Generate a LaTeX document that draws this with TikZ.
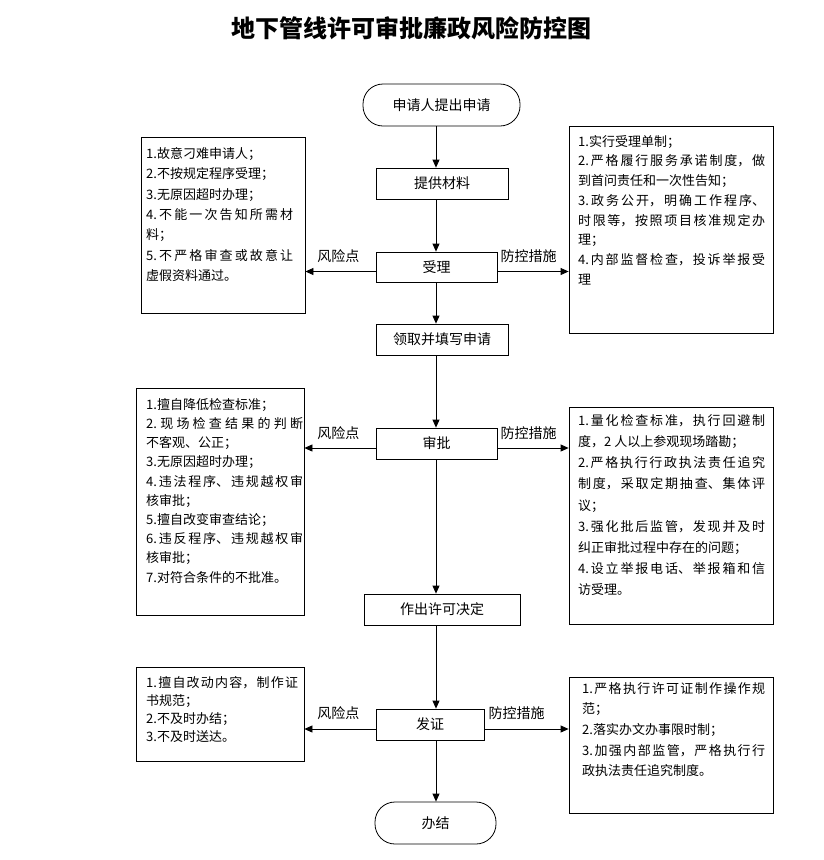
\documentclass[tikz,border=0pt]{standalone}
\usepackage{fontspec}
\setmainfont{Noto Sans CJK SC}
\usetikzlibrary{arrows.meta}
\XeTeXlinebreaklocale "zh"
\XeTeXlinebreakskip=0pt plus 2pt
\setlength{\parindent}{0pt}
\tikzset{
  box/.style={draw, line width=0.8pt, inner sep=0pt, font=\fontsize{14}{16}\selectfont},
  term/.style={box, rounded corners=20pt},
  sidebox/.style={draw, line width=0.8pt, inner sep=0pt},
  sidetext/.style={inner sep=0pt, anchor=north west, align=justify, font=\fontsize{13}{#1}\selectfont},
  lbl/.style={inner sep=0pt, font=\fontsize{14}{16}\selectfont},
  arr/.style={line width=0.8pt, -{Triangle[length=8pt,width=7pt]}},
}
\begin{document}
\begin{tikzpicture}[x=1pt,y=-1pt]
\useasboundingbox (0,0) rectangle (823,860);
\fill[white] (0,0) rectangle (823,860);

\node[inner sep=0pt, font=\fontsize{24}{28}\selectfont\bfseries] (title) at (411.5,28) {地下管线许可审批廉政风险防控图};

% main flow
\node[term, minimum width=157pt, minimum height=42pt] (start) at (441.5,105) {申请人提出申请};
\node[box, minimum width=132pt, minimum height=31pt] (tg) at (442,183.5) {提供材料};
\node[box, minimum width=121pt, minimum height=30pt] (sl) at (436.5,267) {受理};
\node[box, minimum width=132pt, minimum height=31pt] (lq) at (442,339.5) {领取并填写申请};
\node[box, minimum width=121pt, minimum height=31pt] (sp) at (436.5,443.5) {审批};
\node[box, minimum width=156pt, minimum height=31pt] (zc) at (442,609.5) {作出许可决定};
\node[box, minimum width=108pt, minimum height=31pt] (fz) at (430,724.5) {发证};
\node[term, minimum width=121pt, minimum height=42pt] (bj) at (435.5,823) {办结};

% side boxes
\node[sidebox, minimum width=164pt, minimum height=176pt] (L1) at (223,225) {};
\node[sidebox, minimum width=204pt, minimum height=207pt] (R1) at (671,229.5) {};
\node[sidebox, minimum width=168pt, minimum height=227pt] (L2) at (220,501.5) {};
\node[sidebox, minimum width=204pt, minimum height=217pt] (R2) at (671,515.5) {};
\node[sidebox, minimum width=168pt, minimum height=94pt] (L3) at (220,714) {};
\node[sidebox, minimum width=204pt, minimum height=136pt] (R3) at (671,745) {};

\node[sidetext=20.4, text width=147pt] (L1t) at (146,146) {\rule{0pt}{12pt}1.故意刁难申请人；\\
2.不按规定程序受理；\\
3.无原因超时办理；\\
4.不能一次告知所需材\linebreak 料；\\
5.不严格审查或故意让\linebreak 虚假资料通过。};

\node[sidetext=19.7, text width=187pt] (R1t) at (578,134) {\rule{0pt}{12pt}1.实行受理单制；\\
2.严格履行服务承诺制度，做\linebreak 到首问责任和一次性告知；\\
3.政务公开，明确工作程序、\linebreak 时限等，按照项目核准规定办\linebreak 理；\\
4.内部监督检查，投诉举报受\linebreak 理};

\node[sidetext=19.2, text width=157pt] (L2t) at (146,397) {\rule{0pt}{12pt}1.擅自降低检查标准；\\
2.现场检查结果的判断\linebreak 不客观、公正；\\
3.无原因超时办理；\\
4.违法程序、违规越权审\linebreak 核审批；\\
5.擅自改变审查结论；\\
6.违反程序、违规越权审\linebreak 核审批；\\
7.对符合条件的不批准。};

\node[sidetext=21.2, text width=187pt] (R2t) at (578,413) {\rule{0pt}{12pt}1.量化检查标准，执行回避制\linebreak 度，2 人以上参观现场踏勘；\\
2.严格执行行政执法责任追究\linebreak 制度，采取定期抽查、集体评\linebreak 议；\\
3.强化批后监管，发现并及时\linebreak 纠正审批过程中存在的问题；\\
4.设立举报电话、举报箱和信\linebreak 访受理。};

\node[sidetext=18.1, text width=152pt] (L3t) at (146,675) {\rule{0pt}{12pt}1.擅自改动内容，制作证\linebreak 书规范；\\
2.不及时办结；\\
3.不及时送达。};

\node[sidetext=20.6, text width=183pt] (R3t) at (582,681) {\rule{0pt}{12pt}1.严格执行许可证制作操作规\linebreak 范；\\
2.落实办文办事限时制；\\
3.加强内部监管，严格执行行\linebreak 政执法责任追究制度。};

% vertical connectors
\coordinate (axis) at (436,0);
\draw[arr] (start.south -| axis) -- (tg.north -| axis);
\draw[arr] (tg.south -| axis) -- (sl.north -| axis);
\draw[arr] (sl.south -| axis) -- (lq.north -| axis);
\draw[arr] (lq.south -| axis) -- (sp.north -| axis);
\draw[arr] (sp.south -| axis) -- (zc.north -| axis);
\draw[arr] (zc.south -| axis) -- (fz.north -| axis);
\draw[arr] (fz.south -| axis) -- (bj.north -| axis);

% side connectors
\coordinate (slL) at ([yshift=-4.5pt]sl.west);
\coordinate (slR) at ([yshift=-4.5pt]sl.east);
\coordinate (spL) at ([yshift=-4.5pt]sp.west);
\coordinate (spR) at ([yshift=-4.5pt]sp.east);
\coordinate (fzL) at ([yshift=-4.5pt]fz.west);
\coordinate (fzR) at ([yshift=-4.5pt]fz.east);

\draw[arr] (slL) -- (slL -| L1.east);
\draw[arr] (slR) -- (slR -| R1.west);
\draw[arr] (spL) -- (spL -| L2.east);
\draw[arr] (spR) -- (spR -| R2.west);
\draw[arr] (fzL) -- (fzL -| L3.east);
\draw[arr] (fzR) -- (fzR -| R3.west);

\node[lbl, anchor=east] (k1) at ([xshift=-16pt,yshift=15pt]slL) {风险点};
\node[lbl, anchor=west] (m1) at ([xshift=3pt,yshift=15pt]slR) {防控措施};
\node[lbl, anchor=east] (k2) at ([xshift=-16pt,yshift=15pt]spL) {风险点};
\node[lbl, anchor=west] (m2) at ([xshift=3pt,yshift=15pt]spR) {防控措施};
\node[lbl, anchor=east] (k3) at ([xshift=-16pt,yshift=16pt]fzL) {风险点};
\node[lbl, anchor=west] (m3) at ([xshift=4pt,yshift=16pt]fzR) {防控措施};
\end{tikzpicture}
\end{document}
